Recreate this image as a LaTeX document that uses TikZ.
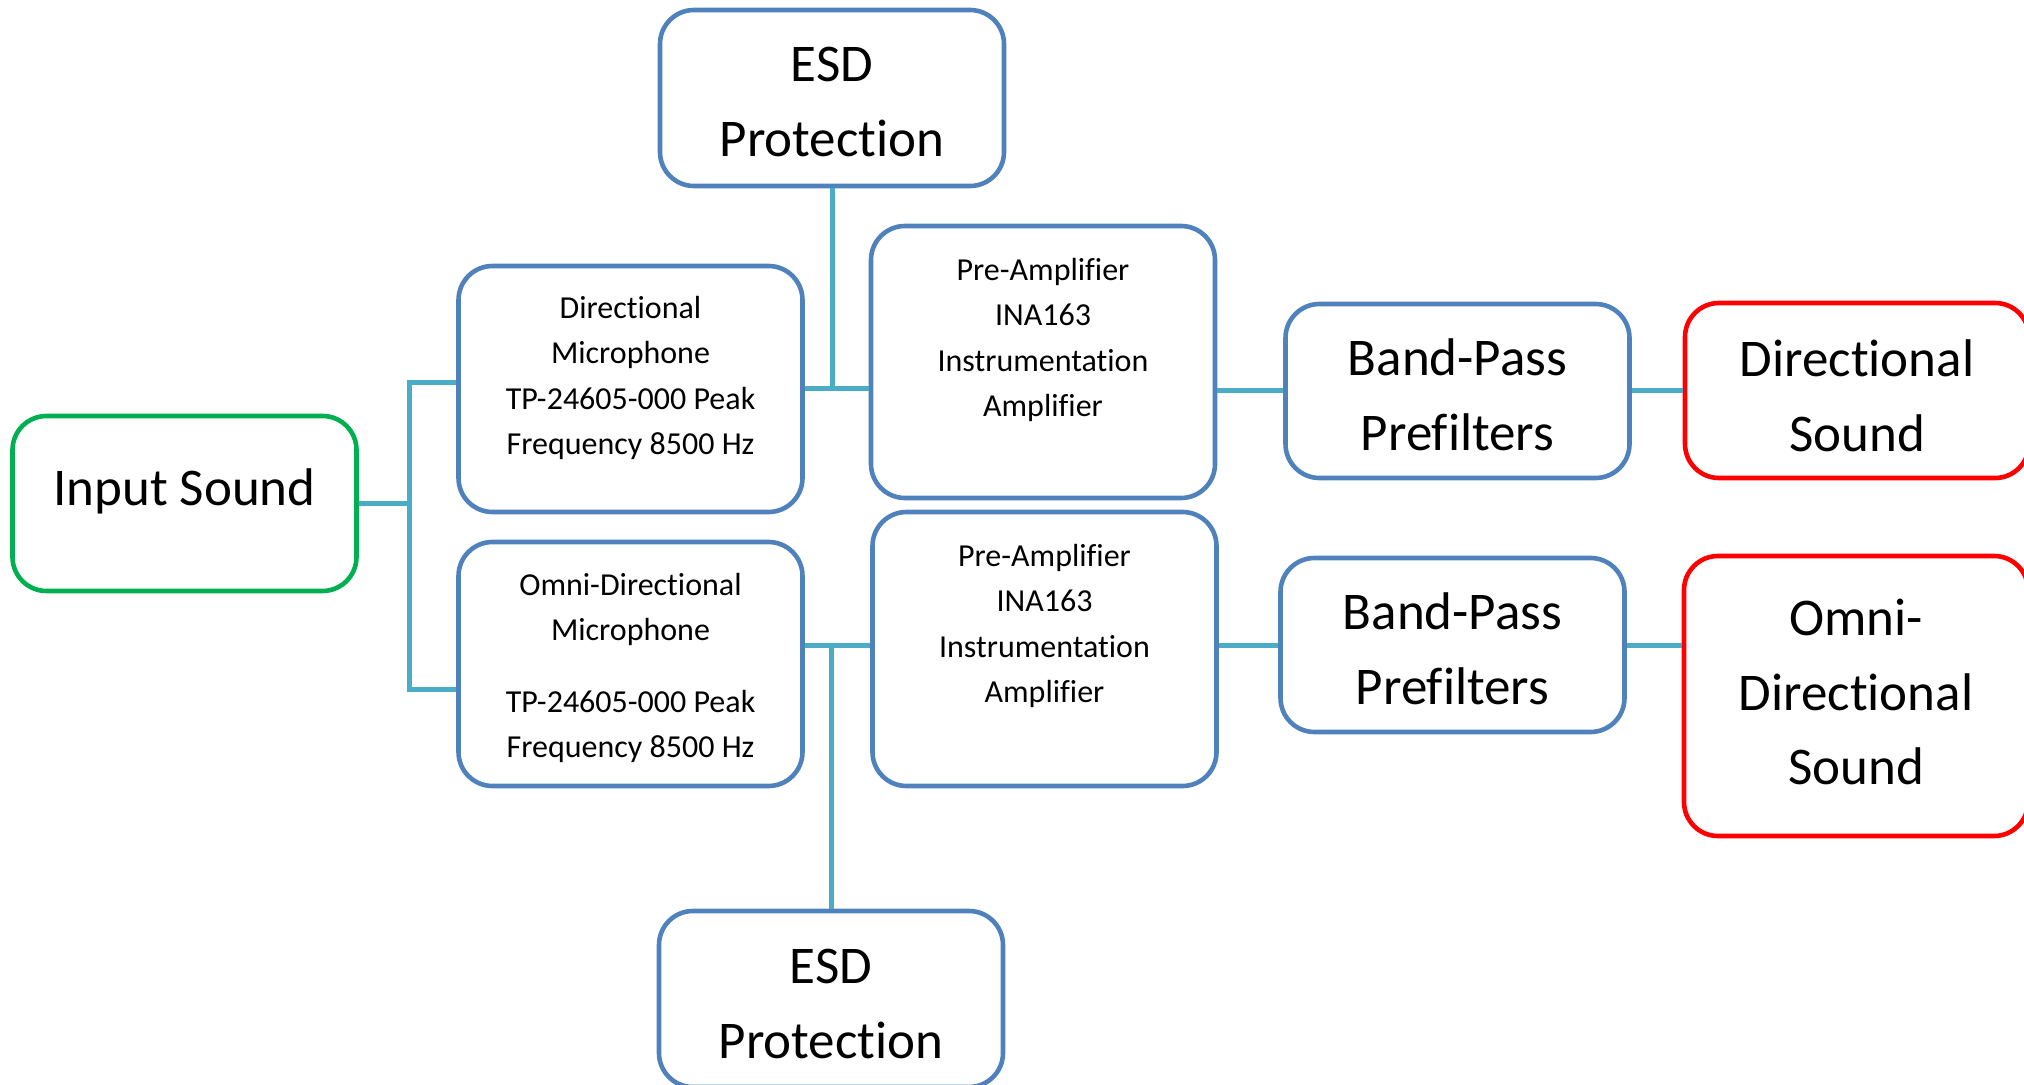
\documentclass[tikz,border=0pt]{standalone}
\usepackage{fontspec}
\setmainfont{Carlito}[Ligatures=NoCommon]
\definecolor{boxblue}{RGB}{79,129,189}
\definecolor{wireblue}{RGB}{75,172,198}
\definecolor{ingreen}{RGB}{0,176,80}
\definecolor{outred}{RGB}{255,0,0}
\tikzset{
    blk/.style={draw=boxblue, line width=2.3pt, rounded corners=17pt,
    	minimum width=172pt, inner sep=0pt},
    inblk/.style={blk, draw=ingreen},
    outblk/.style={blk, draw=outred},
    big/.style={font=\fontsize{26.5}{37.4}\selectfont, align=center},
    small/.style={font=\fontsize{16}{22.6}\selectfont, align=center},
    wire/.style={draw=wireblue, line width=2.5pt}
}

\begin{document}
\begin{tikzpicture}[x=0.5pt, y=-0.5pt]
  \useasboundingbox (0,0) rectangle (2024,1085);

  \node[inblk, minimum height=87.5pt] (inp) at (184.5,503.5) {};
  \node[blk, minimum height=88pt] (esd1) at (832,98) {};
  \node[blk, minimum height=123pt] (dmic) at (630.5,389) {};
  \node[blk, minimum height=122pt] (omic) at (630.5,664) {};
  \node[blk, minimum height=136pt] (pre1) at (1043,362) {};
  \node[blk, minimum height=137pt] (pre2) at (1044.5,649) {};
  \node[blk, minimum height=87pt] (bp1) at (1457.5,391) {};
  \node[blk, minimum height=87pt] (bp2) at (1452.5,645) {};
  \node[outblk, minimum height=87.5pt] (dsnd) at (1857,390.5) {};
  \node[outblk, minimum height=140pt] (osnd) at (1856,696) {};
  \node[blk, minimum height=88pt] (esd2) at (831,999) {};

  \node[big] (inptxt) at ([yshift=6pt]inp.center) {Input Sound};
  \node[big] (esd1txt) at ([yshift=-2pt]esd1.center) {ESD\\Protection};
  \node[small] (dmictxt) at ([yshift=5.5pt]dmic.center)
  	{Directional\\Microphone\\TP-24605-000 Peak\\Frequency 8500 Hz};
  \node[small] (omictxt) at ([yshift=-2pt]omic.center)
  	{Omni-Directional\\Microphone\\[13pt]TP-24605-000 Peak\\Frequency 8500 Hz};
  \node[small] (pre1txt) at ([yshift=11pt]pre1.center)
  	{Pre-Amplifier\\INA163\\Instrumentation\\Amplifier};
  \node[small] (pre2txt) at ([yshift=11.5pt]pre2.center)
  	{Pre-Amplifier\\INA163\\Instrumentation\\Amplifier};
  \node[big] (bp1txt) at ([yshift=-2pt]bp1.center) {Band-Pass\\Prefilters};
  \node[big] (bp2txt) at ([yshift=-2pt]bp2.center) {Band-Pass\\Prefilters};
  \node[big] (dsndtxt) at ([yshift=-2.5pt]dsnd.center) {Directional\\Sound};
  \node[big] (osndtxt) at ([yshift=2pt]osnd.center) {Omni-\\Directional\\Sound};
  \node[big] (esd2txt) at ([yshift=-2.5pt]esd2.center) {ESD\\Protection};

  % input splits to both microphones
  \coordinate (busT) at (409,383);
  \coordinate (busB) at (409,689);
  \draw[wire] (inp.east) -- (inp.east -| busT);
  \draw[wire] (dmic.west |- busT) -- (busT) -- (busB) -- (omic.west |- busB);

  % microphones to pre-amplifiers, ESD tapped in
  \draw[wire] (dmic.east) -- (dmic.east -| pre1.west);
  \draw[wire] (esd1.south) -- (esd1.south |- dmic.east);
  \draw[wire] (omic.east |- bp2.west) -- (pre2.west |- bp2.west);
  \draw[wire] (esd2.north) -- (esd2.north |- bp2.west);

  % filters and outputs
  \draw[wire] (pre1.east |- bp1.west) -- (bp1.west);
  \draw[wire] (pre2.east |- bp2.west) -- (bp2.west);
  \draw[wire] (bp1.east) -- (dsnd.west |- bp1.east);
  \draw[wire] (bp2.east) -- (osnd.west |- bp2.east);
\end{tikzpicture}
\end{document}
